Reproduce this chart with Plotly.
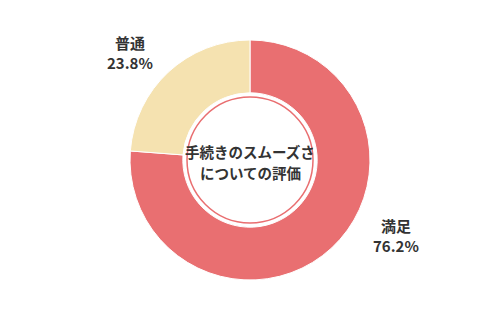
import plotly.graph_objects as go

labels = ["満足", "普通"]
values = [76.2, 23.8]
colors = ["#E96F71", "#F5E2B0"]
center_lines = ["手続きのスムーズさ", "についての評価"]

W, H = 500, 321
cx, cy, R = 250, 160, 120
FONT = "Noto Sans CJK JP"

fig = go.Figure(go.Pie(
    labels=labels, values=values, hole=0.56, sort=False,
    direction="clockwise", rotation=0,
    marker=dict(colors=colors, line=dict(color="white", width=1)),
    textinfo="none", hoverinfo="label+percent", showlegend=False,
    domain=dict(x=[(cx - R) / W, (cx + R) / W], y=[(H - cy - R) / H, (H - cy + R) / H]),
))

r_in = 63
fig.add_shape(type="circle", xref="paper", yref="paper",
              x0=(cx - r_in) / W, x1=(cx + r_in) / W,
              y0=(H - cy - r_in) / H, y1=(H - cy + r_in) / H,
              line=dict(color="#E96F71", width=1.5))


def txt(px, py, text, size):
    fig.add_annotation(x=px / W, y=(H - py) / H, xref="paper", yref="paper",
                       xanchor="center", yanchor="middle", borderpad=0,
                       text="<b>" + text + "</b>", showarrow=False,
                       font=dict(size=size, color="#333333", family=FONT))


txt(cx, 151, center_lines[0], 14.5)
txt(cx, 172, center_lines[1], 14.5)

label_pos = [(396, 235), (130, 52)]
for lab, val, (px, py) in zip(labels, values, label_pos):
    txt(px, py, f"{lab}<br>{val:.1f}%", 15)

fig.update_layout(width=W, height=H, margin=dict(l=0, r=0, t=0, b=0),
                  paper_bgcolor="white", plot_bgcolor="white")
fig.write_html("out.html")
